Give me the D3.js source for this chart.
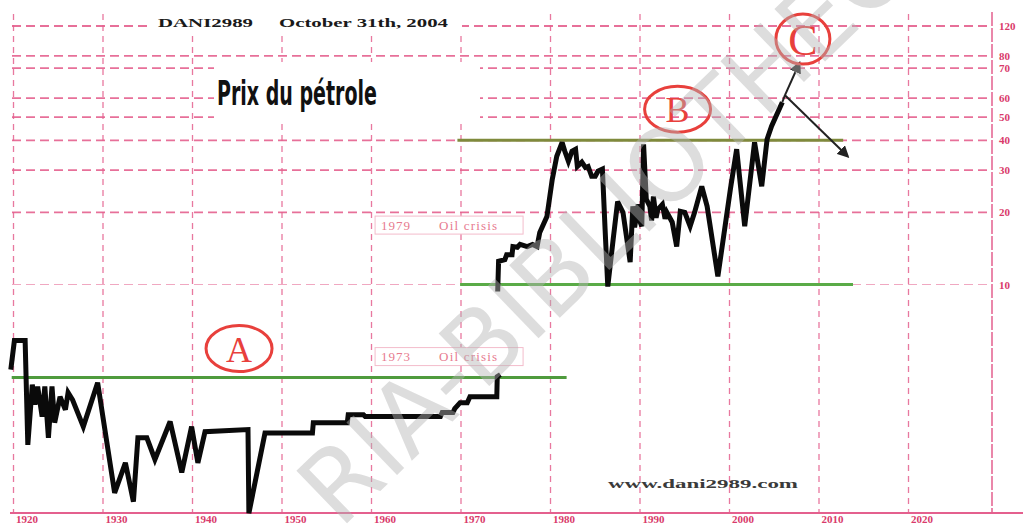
<!DOCTYPE html>
<html>
<head>
<meta charset="utf-8">
<script src="https://cdn.jsdelivr.net/npm/d3@7"></script>
<style>
  html, body { margin: 0; padding: 0; background: #fff; overflow: hidden; }
  svg { display: block; }
</style>
</head>
<body>
<div id="chart"></div>
<script>
// Prix du pétrole (USD / baril)
// 1ère partie : 1920 -> 1974 (ancienne série)
const earlyYears = [1919.7, 1920.1, 1921.3, 1921.6, 1922.1, 1922.4, 1922.7, 1923.2, 1923.5, 1923.9,
    1924.3, 1924.6, 1925.2, 1925.8, 1926.1, 1926.6, 1927.8, 1929.4, 1931.3, 1932.5,
    1933.4, 1933.9, 1934.9, 1935.8, 1937.5, 1938.8, 1939.9, 1940.6, 1941.4, 1946.2,
    1946.3, 1948.1, 1953.4, 1953.5, 1957.3, 1957.4, 1959.1, 1959.3, 1967.7, 1967.9,
    1969.1, 1969.3, 1969.9, 1970.7, 1971.0, 1974.0, 1974.05, 1974.4]
const earlyPrices = [4.41, 5.83, 5.83, 2.14, 3.82, 3.15, 3.75, 2.81, 3.75, 2.29,
    3.75, 2.65, 3.40, 3.00, 3.54, 3.30, 2.55, 3.89, 1.35, 1.80,
    1.24, 2.29, 2.29, 1.86, 2.68, 1.64, 2.55, 1.80, 2.43, 2.48,
    1.11, 2.40, 2.40, 2.65, 2.65, 2.86, 2.86, 2.81, 2.81, 2.92,
    2.92, 3.03, 3.21, 3.21, 3.40, 3.40, 4.12, 4.20]

// 2ème partie : 1974 -> 2004
const lateYears = [1974.1, 1974.2, 1974.9, 1975.1, 1975.7, 1975.8, 1976.3, 1976.6, 1977.4, 1978.0,
    1978.5, 1978.8, 1979.6, 1980.2, 1980.7, 1981.3, 1981.6, 1982.0, 1982.4, 1982.8,
    1983.0, 1983.5, 1983.9, 1984.2, 1984.6, 1985.0, 1985.3, 1985.8, 1986.1, 1986.4,
    1987.0, 1987.5, 1988.1, 1988.9, 1989.2, 1989.4, 1989.8, 1990.0, 1990.2, 1990.4,
    1990.7, 1991.1, 1991.3, 1991.5, 1991.8, 1992.0, 1992.5, 1992.8, 1993.0, 1993.6,
    1994.1, 1994.5, 1995.0, 1995.6, 1996.1, 1996.9, 1997.5, 1998.7, 2000.1, 2000.8,
    2001.7, 2002.8, 2003.6, 2004.2, 2004.7, 2005.9]
const latePrices = [9.35, 12.5, 12.7, 13.3, 13.3, 14.4, 14.3, 14.7, 14.4, 14.7,
    14.4, 16.5, 19.2, 27.5, 34.3, 39.2, 36.0, 32.7, 36.0, 36.7,
    31.1, 32.4, 30.8, 31.1, 28.3, 28.3, 29.7, 30.3, 17.0, 9.8,
    15.4, 22.2, 20.0, 12.4, 21.2, 17.3, 21.6, 18.3, 17.5, 38.5,
    22.7, 21.2, 18.5, 23.3, 19.0, 20.6, 21.6, 18.8, 20.0, 18.2,
    14.4, 20.2, 20.0, 17.5, 20.0, 25.7, 21.2, 10.8, 25.0, 36.7,
    17.5, 39.2, 25.7, 40.4, 45.8, 57.7]

// graduations (les libellés de l'original ne suivent pas exactement les lignes)
const gridValues = [10, 20, 30, 40, 50, 60, 80, 90, 120]
const gridLabels = ["10", "20", "30", "40", "50", "60", "70", "80", "120"]
const decades = [1920, 1930, 1940, 1950, 1960, 1970, 1980, 1990, 2000, 2010, 2020]

// supports / résistances A et B
const levelNames = ["A", "B bas", "B haut"]
const levelValues = [4.09, 10, 40]
const levelFrom = [1919.8, 1969.9, 1969.6]
const levelTo = [1981.8, 2013.8, 2012.7]

// lettres cerclées
const waveLetters = ["A", "B", "C"]
const waveYears = [1945.2, 1994.2, 2008.2]
const wavePrices = [5.4, 53.9, 105.8]

// fourche de projection après C
const forkYears = [2006.2, 2007.8, 2013.2]
const forkPrices = [61.7, 83.9, 34.3]

const crisisLabels = ["1979", "1973"]
const crisisYears = [1960.4, 1960.4]
const crisisPrices = [17.7, 5.0]

const width = 1023
const height = 524
const pink = "#e4608e"

const svg = d3.select("#chart").append("svg")
    .attr("width", width)
    .attr("height", height)
    .style("font-family", "'Liberation Serif', 'DejaVu Serif', serif")

const x = d3.scaleLinear().domain([1920, 2020]).range([13.5, 908.5])
const y = d3.scaleLog().domain([1, 120]).range([524, 26])

svg.append("rect").attr("width", width).attr("height", height).attr("fill", "#fff")

// grille horizontale
const grid = svg.append("g").attr("class", "grid")
grid.selectAll(".hline")
    .data(gridValues)
    .enter()
    .append("line")
    .attr("class", "hline")
    .attr("x1", 12)
    .attr("x2", 992)
    .attr("y1", d => y(d))
    .attr("y2", d => y(d))
    .attr("stroke", pink)
    .attr("stroke-width", d => d == 10 ? 1.2 : 1.8)
    .attr("stroke-opacity", d => d == 10 ? 0.55 : 0.9)
    .attr("stroke-dasharray", "9,5")

// grille verticale
grid.selectAll(".vline")
    .data(decades)
    .enter()
    .append("line")
    .attr("class", "vline")
    .attr("x1", d => x(d))
    .attr("x2", d => x(d))
    .attr("y1", 14)
    .attr("y2", 513)
    .attr("stroke", pink)
    .attr("stroke-width", 1.3)
    .attr("stroke-opacity", 0.85)
    .attr("stroke-dasharray", "6,5")

grid.append("line")
    .attr("x1", 992).attr("x2", 992)
    .attr("y1", 12).attr("y2", 513)
    .attr("stroke", pink).attr("stroke-width", 1.5)
    .attr("stroke-dasharray", "14,2")

// cache blanc derrière les titres
svg.append("rect").attr("x", 150).attr("y", 13).attr("width", 312).attr("height", 20).attr("fill", "#fff")
svg.append("rect").attr("x", 214).attr("y", 62).attr("width", 266).attr("height", 61).attr("fill", "#fff")

// axe du bas
svg.append("line")
    .attr("x1", 10).attr("x2", 1023)
    .attr("y1", 513).attr("y2", 513)
    .attr("stroke", pink).attr("stroke-width", 2)

const xAxis = svg.append("g")
    .attr("transform", "translate(0,515)")
    .call(d3.axisBottom(x).tickValues(decades).tickSize(0).tickFormat(d3.format("d")))
xAxis.select(".domain").remove()
xAxis.selectAll("text")
    .attr("text-anchor", "start")
    .attr("dx", 2)
    .attr("y", 0)
    .attr("dy", "0.72em")
    .attr("fill", "#d93a6a")
    .style("font-family", "'Liberation Serif', serif")
    .style("font-size", "11px")
    .style("font-weight", "bold")

// axe de droite
const yAxis = svg.append("g")
    .attr("transform", "translate(999,0)")
    .call(d3.axisRight(y).tickValues(gridValues).tickSize(0).tickFormat((d, i) => gridLabels[i]))
yAxis.select(".domain").remove()
yAxis.selectAll("text")
    .attr("x", 0)
    .attr("fill", "#d93a6a")
    .style("font-family", "'Liberation Serif', serif")
    .style("font-size", "11px")
    .style("font-weight", "bold")

// encadrés "Oil crisis"
const crisis = svg.selectAll(".crisis")
    .data(crisisLabels)
    .enter()
    .append("g")
    .attr("class", "crisis")
    .attr("transform", (d, i) => "translate(" + x(crisisYears[i]) + "," + y(crisisPrices[i]) + ")")
crisis.append("rect")
    .attr("x", 0).attr("y", -9)
    .attr("width", 148).attr("height", 18)
    .attr("fill", "#fff")
    .attr("stroke", "#f3bccb")
    .attr("stroke-width", 1)
crisis.append("text")
    .attr("x", 6).attr("dy", "0.36em")
    .attr("fill", "#e77b8f")
    .style("font-size", "13px")
    .style("letter-spacing", "1px")
    .text(d => d)
crisis.append("text")
    .attr("x", 64).attr("dy", "0.36em")
    .attr("fill", "#e77b8f")
    .style("font-size", "13px")
    .style("letter-spacing", "1.2px")
    .text("Oil crisis")

// niveaux A / B
const levelColors = ["#4f9b3d", "#5aab47", "#7f8a3c"]
svg.selectAll(".level")
    .data(levelValues)
    .enter()
    .append("line")
    .attr("class", "level")
    .attr("x1", (d, i) => x(levelFrom[i]))
    .attr("x2", (d, i) => x(levelTo[i]))
    .attr("y1", d => y(d))
    .attr("y2", d => y(d))
    .attr("stroke", (d, i) => levelColors[i])
    .attr("stroke-width", 3)

// courbe du prix
const line = d3.line()
    .x(d => x(d[0]))
    .y(d => y(d[1]))

const early = earlyYears.map((yr, i) => [yr, earlyPrices[i]])
const late = lateYears.map((yr, i) => [yr, latePrices[i]])

svg.selectAll(".price")
    .data([early, late])
    .enter()
    .append("path")
    .attr("class", "price")
    .attr("d", line)
    .attr("fill", "none")
    .attr("stroke", "#0a0a0a")
    .attr("stroke-width", 5)
    .attr("stroke-linejoin", "miter")
    .attr("stroke-miterlimit", 3)

// flèches de projection
svg.append("defs").append("marker")
    .attr("id", "arrow")
    .attr("viewBox", "0 0 10 10")
    .attr("refX", 8).attr("refY", 5)
    .attr("markerWidth", 6).attr("markerHeight", 6)
    .attr("orient", "auto")
    .append("path")
    .attr("d", "M0,0 L10,5 L0,10 z")
    .attr("fill", "#222")

const forkStart = [x(forkYears[0]), y(forkPrices[0])]
for (let i = 1; i < forkYears.length; i++) {
    svg.append("line")
        .attr("x1", forkStart[0]).attr("y1", forkStart[1])
        .attr("x2", x(forkYears[i])).attr("y2", y(forkPrices[i]))
        .attr("stroke", "#222")
        .attr("stroke-width", 2)
        .attr("marker-end", "url(#arrow)")
}
svg.append("line")
    .attr("x1", x(lateYears[lateYears.length - 1])).attr("y1", y(latePrices[latePrices.length - 1]))
    .attr("x2", forkStart[0]).attr("y2", forkStart[1])
    .attr("stroke", "#222").attr("stroke-width", 2)

// lettres cerclées
const waves = svg.selectAll(".wave")
    .data(waveLetters)
    .enter()
    .append("g")
    .attr("class", "wave")
    .attr("transform", (d, i) => "translate(" + x(waveYears[i]) + "," + y(wavePrices[i]) + ")")
waves.append("ellipse")
    .attr("rx", (d, i) => i == 2 ? 27 : 33)
    .attr("ry", (d, i) => i == 2 ? 25 : 23)
    .attr("fill", "none")
    .attr("stroke", "#e8403c")
    .attr("stroke-width", 3)
waves.append("text")
    .attr("text-anchor", "middle")
    .attr("dy", "0.36em")
    .attr("fill", "#e8403c")
    .style("font-size", (d, i) => i == 2 ? "44px" : "36px")
    .text(d => d)

// titres
svg.append("text")
    .attr("x", 158).attr("y", 27)
    .attr("textLength", 95).attr("lengthAdjust", "spacingAndGlyphs")
    .style("font-size", "12px").style("font-weight", "bold")
    .attr("fill", "#1a1a1a")
    .text("DANI2989")
svg.append("text")
    .attr("x", 279).attr("y", 27)
    .attr("textLength", 169).attr("lengthAdjust", "spacingAndGlyphs")
    .style("font-size", "12px").style("font-weight", "bold")
    .attr("fill", "#1a1a1a")
    .text("October 31th, 2004")

svg.append("text")
    .attr("x", 217).attr("y", 105)
    .attr("textLength", 160).attr("lengthAdjust", "spacingAndGlyphs")
    .style("font-family", "'DejaVu Sans Condensed', 'DejaVu Sans', sans-serif")
    .style("font-size", "33px").style("font-weight", "bold")
    .attr("fill", "#111")
    .text("Prix du pétrole")

svg.append("text")
    .attr("x", 608).attr("y", 488)
    .attr("textLength", 190).attr("lengthAdjust", "spacingAndGlyphs")
    .style("font-size", "13px").style("font-weight", "bold")
    .attr("fill", "#3a3a3a")
    .text("www.dani2989.com")

// filigrane
svg.append("text")
    .attr("transform", "translate(340,530) rotate(-44)")
    .style("font-family", "'DejaVu Sans', sans-serif")
    .style("font-size", "100px")
    .attr("fill", "#b4b4b4")
    .attr("fill-opacity", 0.45)
    .text("RIA-BIBLIOTHEQUE")
</script>
</body>
</html>
